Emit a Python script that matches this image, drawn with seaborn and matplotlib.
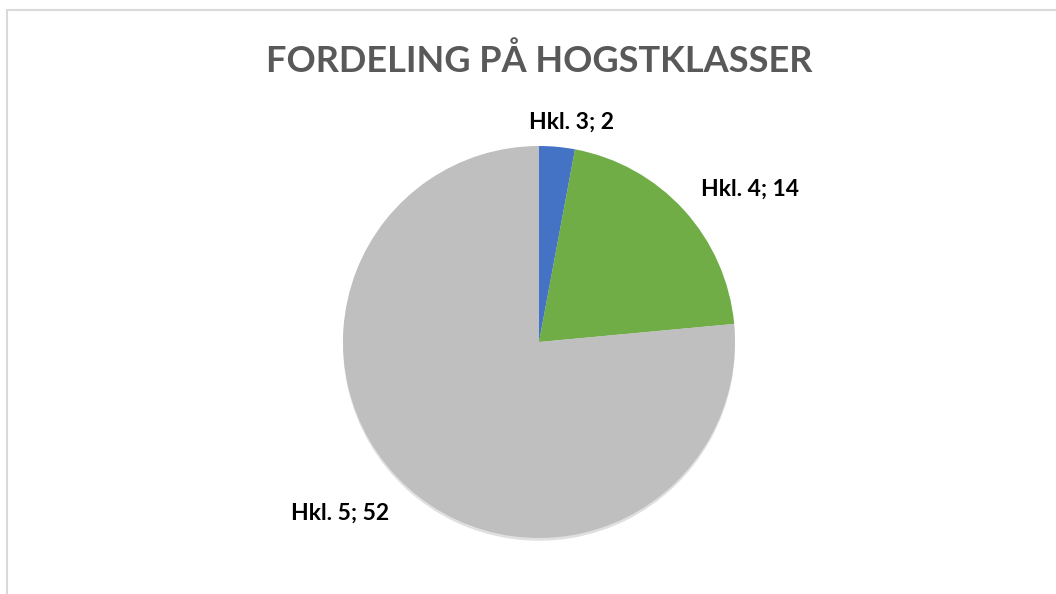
import numpy as np
import matplotlib.pyplot as plt
import matplotlib.patheffects as pe
from matplotlib.patches import Rectangle
import seaborn as sns

sns.set_theme(style="white")
plt.rcParams['font.family'] = ['Lato', 'DejaVu Sans']

# data
klasser = ['Hkl. 3', 'Hkl. 4', 'Hkl. 5']
antall = [2, 14, 52]
farger = ['#4472C4', '#70AD47', '#BFBFBF']

fig = plt.figure(figsize=(10.56, 5.94), dpi=100)
ax = fig.add_axes([0, 0, 1, 1])

wedges, _ = ax.pie(antall, colors=farger, startangle=90, counterclock=False,
                   radius=1, center=(0, 0), frame=False,
                   wedgeprops=dict(linewidth=0))
for w in wedges:
    w.set_path_effects([pe.SimplePatchShadow(offset=(0, -2), shadow_rgbFace='black', alpha=0.12),
                        pe.Normal()])

# label placement per slice (distance factor, angle nudge in degrees)
lab_dist = [1.135, 1.33, 1.34]
lab_nudge = [-3.2, -6.5, -6.9]
for w, navn, n, d, nd in zip(wedges, klasser, antall, lab_dist, lab_nudge):
    mid = np.deg2rad((w.theta1 + w.theta2) / 2 + nd)
    ax.text(d * np.cos(mid), d * np.sin(mid), f'{navn}; {n}',
            ha='center', va='center', fontsize=16.5, fontweight='bold', color='black')

# keep equal scaling with the pie centre at (539, 342) px, radius 196 px
r_px = 196
ax.set_xlim(-539 / r_px, (1056 - 539) / r_px)
ax.set_ylim(-(594 - 342) / r_px, 342 / r_px)
ax.set_aspect('auto')
ax.axis('off')

fig.text(539 / 1056, 1 - 61 / 594, 'FORDELING PÅ HOGSTKLASSER', ha='center', va='center',
         fontsize=26, fontweight='bold', color='#595959')

# chart border
fig.patches.append(Rectangle((7 / 1056, -0.01), 1.02, 1 - 10 / 594 + 0.01, transform=fig.transFigure,
                             fill=False, edgecolor='#D9D9D9', linewidth=1.5))

fig.savefig('out.png', dpi=100)
